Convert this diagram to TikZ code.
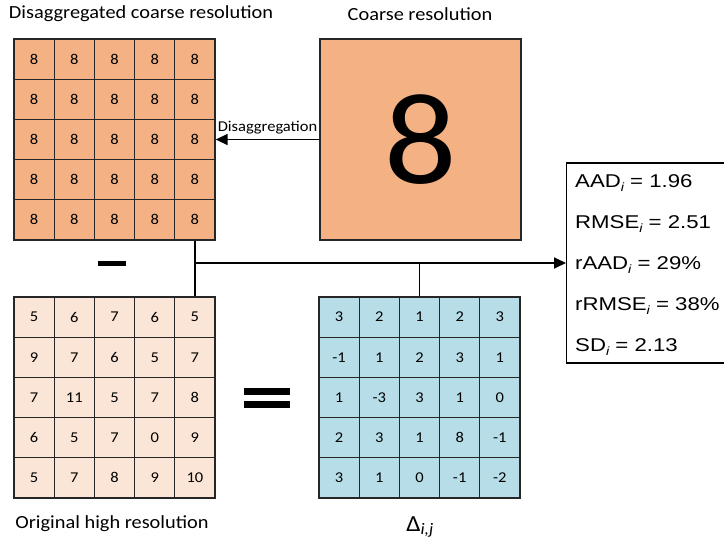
\documentclass[tikz,border=0pt]{standalone}
\usepackage{fontspec}
\setmainfont[FakeStretch=1.1]{Carlito}
\newfontfamily\statfont[FakeStretch=1.2]{Liberation Sans}
\usepackage{xcolor}
\usetikzlibrary{positioning,arrows.meta}
\definecolor{coarseorange}{RGB}{244,177,131}
\definecolor{highpink}{RGB}{251,229,214}
\definecolor{deltablue}{RGB}{183,222,232}
\newcommand{\statsub}{\raisebox{-4pt}{\fontsize{12}{12}\selectfont\itshape i}}

\begin{document}
\begin{tikzpicture}[x=1pt,y=-1pt,
		cell/.style={rectangle,
			draw=black!85,
			line width=1.2pt,
			minimum size=40.2pt,
			inner sep=0pt,
			font=\fontsize{15}{15}\selectfont},
		frame/.style={rectangle,
			draw=black!85,
			line width=1.4pt,
			minimum size=201pt,
			inner sep=0pt},
		bar/.style={rectangle, fill=black, inner sep=0pt},
		link/.style={line width=1.8pt},
		title/.style={font=\fontsize{18.5}{18.5}\selectfont},
		stat/.style={anchor=base west, inner sep=0pt, font=\statfont\fontsize{18.5}{18.5}\selectfont}]
	\useasboundingbox (0,0) rectangle (724,547);

	% disaggregated coarse grid
	\foreach \r in {1,...,5}
		\foreach \c in {1,...,5}
			\node[cell, fill=coarseorange] (d-\r-\c) at ({14+40.2*(\c-0.5)},{39+40.2*(\r-0.5)}) {8};
	\node[frame] (disagg) at (114.5,139.5) {};

	% original high resolution grid
	\foreach \row [count=\r] in {{5,6,7,6,5},{9,7,6,5,7},{7,11,5,7,8},{6,5,7,0,9},{5,7,8,9,10}}
		\foreach \v [count=\c] in \row
			\node[cell, fill=highpink] (o-\r-\c) at ({14+40.2*(\c-0.5)},{297+40.2*(\r-0.5)}) {\v};
	\node[frame] (orig) at (114.5,397.5) {};

	% differences
	\foreach \row [count=\r] in {{3,2,1,2,3},{-1,1,2,3,1},{1,-3,3,1,0},{2,3,1,8,-1},{3,1,0,-1,-2}}
		\foreach \v [count=\c] in \row
			\node[cell, fill=deltablue] (delta-\r-\c) at ({319+40.2*(\c-0.5)},{297+40.2*(\r-0.5)}) {\v};
	\node[frame] (delta) at (419.5,397.5) {};

	\node[frame, fill=coarseorange, font=\fontsize{130}{130}\selectfont] (coarse) at (420.5,139.5) {8};

	\node[title] (disaggtitle) at (141,14) {Disaggregated coarse resolution};
	\node[title] (coarsetitle) at (420,14) {Coarse resolution};
	\node[title] (origtitle) at (112,524) {Original high resolution};
	\node[font=\fontsize{23}{23}\selectfont] (deltatitle) at (420,527) {Δ\textsubscript{\itshape i,j}};

	\draw[link, -{Triangle[length=12pt, width=11pt]}] (coarse.west) -- (disagg.east)
		node[pos=0.5, above=1pt, font=\fontsize{15}{15}\selectfont] (disagglabel) {Disaggregation};

	\node[bar, minimum width=28pt, minimum height=5pt] (minus) at (112,263) {};
	\node[bar, minimum width=46pt, minimum height=7pt] (eqtop) at (267,391.5) {};
	\node[bar, minimum width=46pt, minimum height=7pt] (eqbot) at (267,404.5) {};

	% statistics box, cut by the right margin
	\node[draw, line width=1.2pt, minimum width=170pt, minimum height=200pt, anchor=west] (stats) at (566,263) {};
	\foreach \txt [count=\k] in {AAD\statsub{} = 1.96,
			RMSE\statsub{} = 2.51,
			rAAD\statsub{} = 29\%,
			rRMSE\statsub{} = 38\%,
			SD\statsub{} = 2.13}
		\node[stat] (stat-\k) at (575,{187+41*(\k-1)}) {\txt};

	\coordinate (jn) at (d-5-5.south |- minus);
	\draw[link] (d-5-5.south) -- (o-1-5.north);
	\draw[link] (delta-1-3.north) -- (delta-1-3.north |- jn);
	\draw[link, -{Triangle[length=12pt, width=11pt]}] (jn) -- (stats.west);
\end{tikzpicture}
\end{document}
